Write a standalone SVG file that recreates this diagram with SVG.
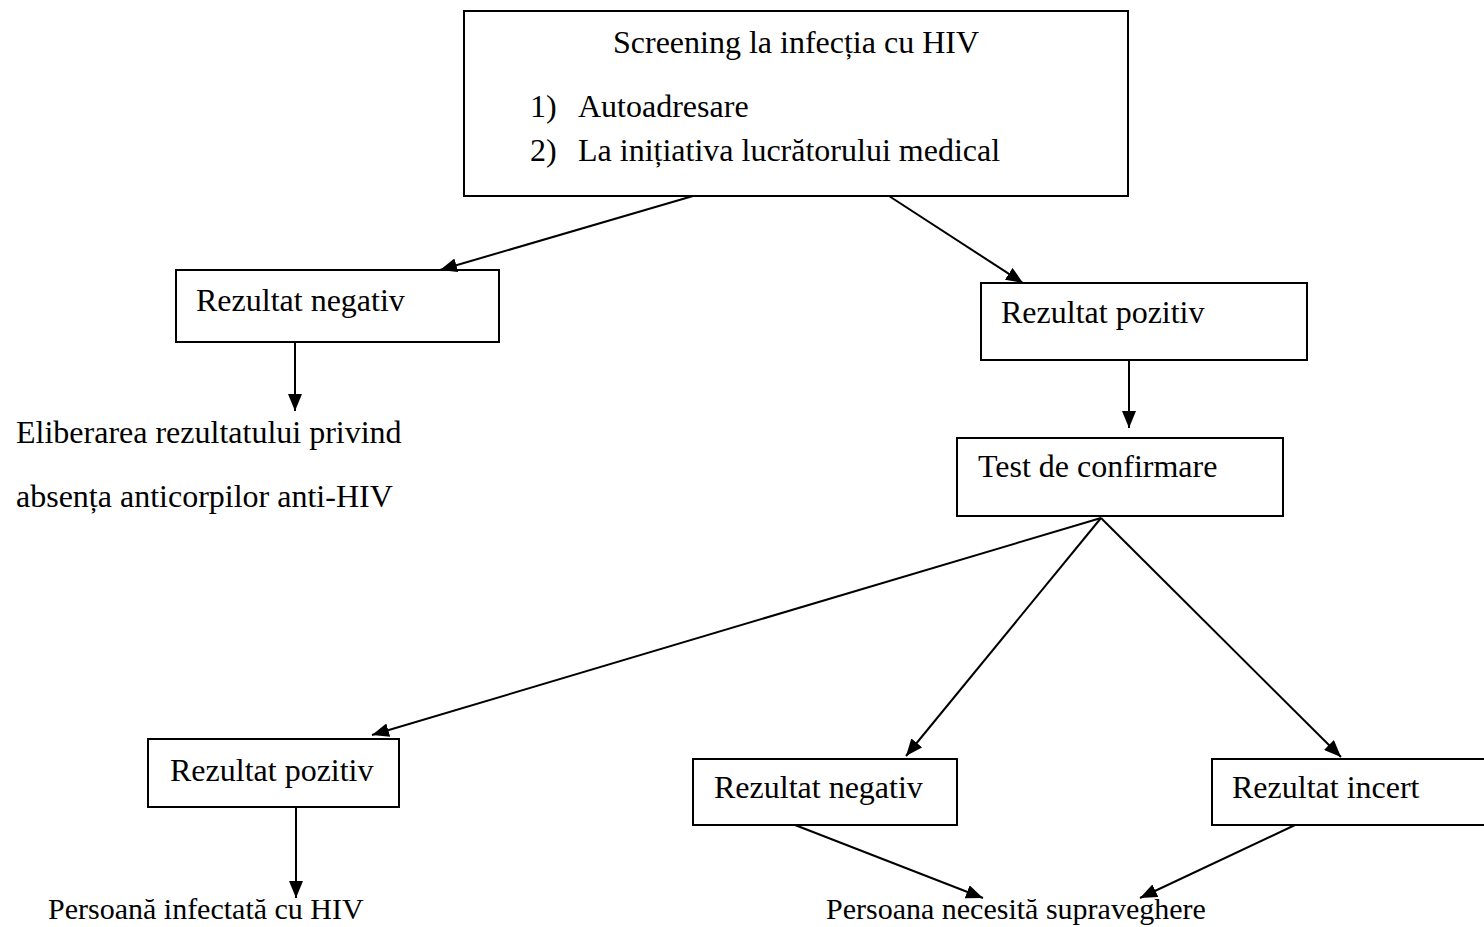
<svg xmlns="http://www.w3.org/2000/svg" width="1484" height="927" viewBox="0 0 1484 927">
<style>
text{font-family:"Liberation Serif","Times New Roman",serif;font-size:32px;fill:#000}
text.s{font-size:30px}
.box{fill:#fff;stroke:#000;stroke-width:2}
.c{stroke:#000;stroke-width:2;fill:none}
</style>
<defs>
<marker id="ah" viewBox="0 0 17 14" refX="17" refY="7" markerWidth="17" markerHeight="14" markerUnits="userSpaceOnUse" orient="auto">
<path d="M0,0 L17,7 L0,14 Z" fill="#000"/>
</marker>
</defs>
<rect width="1484" height="927" fill="#fff"/>
<g id="screening">
<rect class="box" x="464" y="11" width="664" height="185"/>
<text x="796" y="53" text-anchor="middle">Screening la infecția cu HIV</text>
<text x="530" y="117">1)</text><text x="578" y="117">Autoadresare</text>
<text x="530" y="161">2)</text><text x="578" y="161">La inițiativa lucrătorului medical</text>
</g>
<g id="neg1">
<rect class="box" x="176" y="270" width="323" height="72"/>
<text x="196" y="311">Rezultat negativ</text>
</g>
<g id="poz1">
<rect class="box" x="981" y="283" width="326" height="77"/>
<text x="1001" y="323">Rezultat pozitiv</text>
</g>
<g id="eliberare">
<text x="16" y="443">Eliberarea rezultatului privind</text>
<text x="16" y="507">absența anticorpilor anti-HIV</text>
</g>
<g id="test">
<rect class="box" x="957" y="438" width="326" height="78"/>
<text x="978" y="477">Test de confirmare</text>
</g>
<g id="poz2">
<rect class="box" x="148" y="739" width="251" height="68"/>
<text x="170" y="781">Rezultat pozitiv</text>
</g>
<g id="neg2">
<rect class="box" x="693" y="759" width="264" height="66"/>
<text x="714" y="798">Rezultat negativ</text>
</g>
<g id="incert">
<rect class="box" x="1212" y="759" width="280" height="66"/>
<text x="1232" y="798">Rezultat incert</text>
</g>
<g id="infectata">
<text class="s" x="48" y="919">Persoană infectată cu HIV</text>
</g>
<g id="supraveghere">
<text class="s" x="826" y="919">Persoana necesită supraveghere</text>
</g>
<g id="connectors">
<line class="c" x1="693" y1="196" x2="440" y2="270" marker-end="url(#ah)"/>
<line class="c" x1="889" y1="196" x2="1023" y2="283" marker-end="url(#ah)"/>
<line class="c" x1="295" y1="342" x2="295" y2="411" marker-end="url(#ah)"/>
<line class="c" x1="1129" y1="360" x2="1129" y2="428" marker-end="url(#ah)"/>
<line class="c" x1="1101" y1="518" x2="372" y2="735" marker-end="url(#ah)"/>
<line class="c" x1="1101" y1="518" x2="906" y2="756" marker-end="url(#ah)"/>
<line class="c" x1="1101" y1="518" x2="1341" y2="757" marker-end="url(#ah)"/>
<line class="c" x1="296" y1="807" x2="296" y2="898" marker-end="url(#ah)"/>
<line class="c" x1="795" y1="825" x2="983" y2="898" marker-end="url(#ah)"/>
<line class="c" x1="1295" y1="825" x2="1140" y2="898" marker-end="url(#ah)"/>
</g>
</svg>
